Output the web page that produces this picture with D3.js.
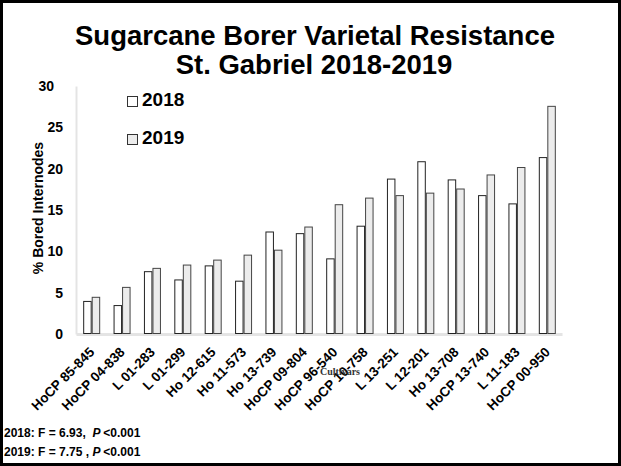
<!DOCTYPE html>
<html>
<head>
<meta charset="utf-8">
<script src="https://cdn.jsdelivr.net/npm/d3@7"></script>
<style>
  body { margin: 0; background: #fff; }
  svg { display: block; font-family: "Liberation Sans", Arial, sans-serif; }
</style>
</head>
<body>
<div id="chart"></div>
<script>
// cultivars, in the order shown
const cultivars = ["HoCP 85-845", "HoCP 04-838", "L 01-283", "L 01-299", "Ho 12-615", "Ho 11-573",
  "Ho 13-739", "HoCP 09-804", "HoCP 96-540", "HoCP 10-758", "L 13-251", "L 12-201",
  "Ho 13-708", "HoCP 13-740", "L 11-183", "HoCP 00-950"];
const years = ["2018", "2019"];
// % bored internodes
const bored2018 = [4.0, 3.5, 7.6, 6.6, 8.3, 6.45, 12.4, 12.2, 9.15, 13.1, 18.8, 20.9, 18.7, 16.8, 15.8, 21.4];
const bored2019 = [4.5, 5.7, 8.0, 8.4, 9.0, 9.6, 10.2, 13.0, 15.7, 16.5, 16.8, 17.1, 17.6, 19.3, 20.2, 27.6];
const yTicks = [0, 5, 10, 15, 20, 25, 30];

const W = 621, H = 466;
const svg = d3.select("#chart").append("svg")
  .attr("width", W).attr("height", H);

// outer frame
svg.append("rect")
  .attr("x", 1.5).attr("y", 1.5)
  .attr("width", W - 3).attr("height", H - 3)
  .attr("fill", "#fff").attr("stroke", "#000").attr("stroke-width", 3);

// title
svg.append("text")
  .attr("x", 315).attr("y", 45)
  .attr("text-anchor", "middle")
  .attr("font-size", 27.5).attr("font-weight", "bold")
  .text("Sugarcane Borer Varietal Resistance");
svg.append("text")
  .attr("x", 314).attr("y", 74)
  .attr("text-anchor", "middle")
  .attr("font-size", 27.5).attr("font-weight", "bold")
  .text("St. Gabriel 2018-2019");

const plot = { left: 76, right: 562, top: 86, bottom: 334 };

const x0 = d3.scaleBand()
  .domain(cultivars)
  .range([plot.left, plot.right]);

const x1 = d3.scaleBand()
  .domain(years)
  .range([0, 16])
  .paddingInner(0.12);

const y = d3.scaleLinear()
  .domain([0, 30])
  .range([plot.bottom, plot.top]);

// y axis
const yAxis = svg.append("g")
  .attr("transform", `translate(${plot.left},0)`)
  .call(d3.axisLeft(y).tickValues(yTicks).tickSize(0).tickPadding(13));
yAxis.select(".domain").attr("stroke", "#e4e4e4").attr("stroke-width", 2);
yAxis.selectAll("text")
  .attr("font-size", 14).attr("font-weight", "bold")
  .attr("font-family", "Liberation Sans, Arial, sans-serif")
  .attr("fill", "#000");
// the top label sits a little further left in the original
yAxis.selectAll(".tick").filter(d => d === 30).select("text").attr("dx", -9);

svg.append("text")
  .attr("transform", `translate(43,208) rotate(-90)`)
  .attr("text-anchor", "middle")
  .attr("font-size", 14).attr("font-weight", "bold")
  .text("% Bored Internodes");

// x axis
const xAxis = svg.append("g")
  .attr("transform", `translate(0,${plot.bottom})`)
  .call(d3.axisBottom(x0).tickSize(0).tickPadding(0));
xAxis.select(".domain").attr("stroke", "#e4e4e4").attr("stroke-width", 3);
xAxis.selectAll("text")
  .attr("font-size", 13.5).attr("font-weight", "bold")
  .attr("font-family", "Liberation Sans, Arial, sans-serif")
  .attr("fill", "#000")
  .attr("text-anchor", "end")
  .attr("dy", null)
  .attr("transform", "translate(4,19) rotate(-45)");

svg.append("text")
  .attr("x", 340).attr("y", 375)
  .attr("text-anchor", "middle")
  .attr("font-family", "Liberation Serif, Times New Roman, serif")
  .attr("font-size", 10).attr("font-weight", "bold")
  .attr("fill", "#333")
  .text("Cultivars");

// bars
const rows = cultivars.map((c, i) => ({ c, v: [bored2018[i], bored2019[i]] }));
const fills = { "2018": "#ffffff", "2019": "#ececec" };
const strokes = { "2018": "#222", "2019": "#444" };

const groups = svg.append("g").selectAll("g")
  .data(rows)
  .enter().append("g")
  .attr("transform", d => `translate(${x0(d.c) + (x0.bandwidth() - 16) / 2},0)`);

groups.selectAll("rect")
  .data(d => years.map((yr, j) => ({ yr, val: d.v[j] })))
  .enter().append("rect")
  .attr("x", d => x1(d.yr) + 0.5)
  .attr("y", d => y(d.val) + 0.5)
  .attr("width", x1.bandwidth())
  .attr("height", d => y(0) - y(d.val) - 1)
  .attr("fill", d => fills[d.yr])
  .attr("stroke", d => strokes[d.yr])
  .attr("stroke-width", 1);

// legend
const legend = svg.append("g");
years.forEach((yr, i) => {
  const ly = 96 + i * 38;
  legend.append("rect")
    .attr("x", 127.5).attr("y", ly + 0.5)
    .attr("width", 10).attr("height", 10)
    .attr("fill", fills[yr]).attr("stroke", "#333").attr("stroke-width", 1);
  legend.append("text")
    .attr("x", 142).attr("y", ly + 10)
    .attr("font-size", 19).attr("font-weight", "bold")
    .text(yr);
});

// statistics notes
const notes = [["2018: F = 6.93,  ", "<0.001"], ["2019: F = 7.75 , ", "<0.001"]];
notes.forEach((n, i) => {
  const t = svg.append("text")
    .attr("x", 4).attr("y", 437 + i * 19)
    .attr("font-size", 12).attr("font-weight", "bold")
    .attr("xml:space", "preserve")
    .style("white-space", "pre");
  t.append("tspan").text(n[0]);
  t.append("tspan").attr("font-style", "italic").text("P ");
  t.append("tspan").text(n[1]);
});
</script>
</body>
</html>
